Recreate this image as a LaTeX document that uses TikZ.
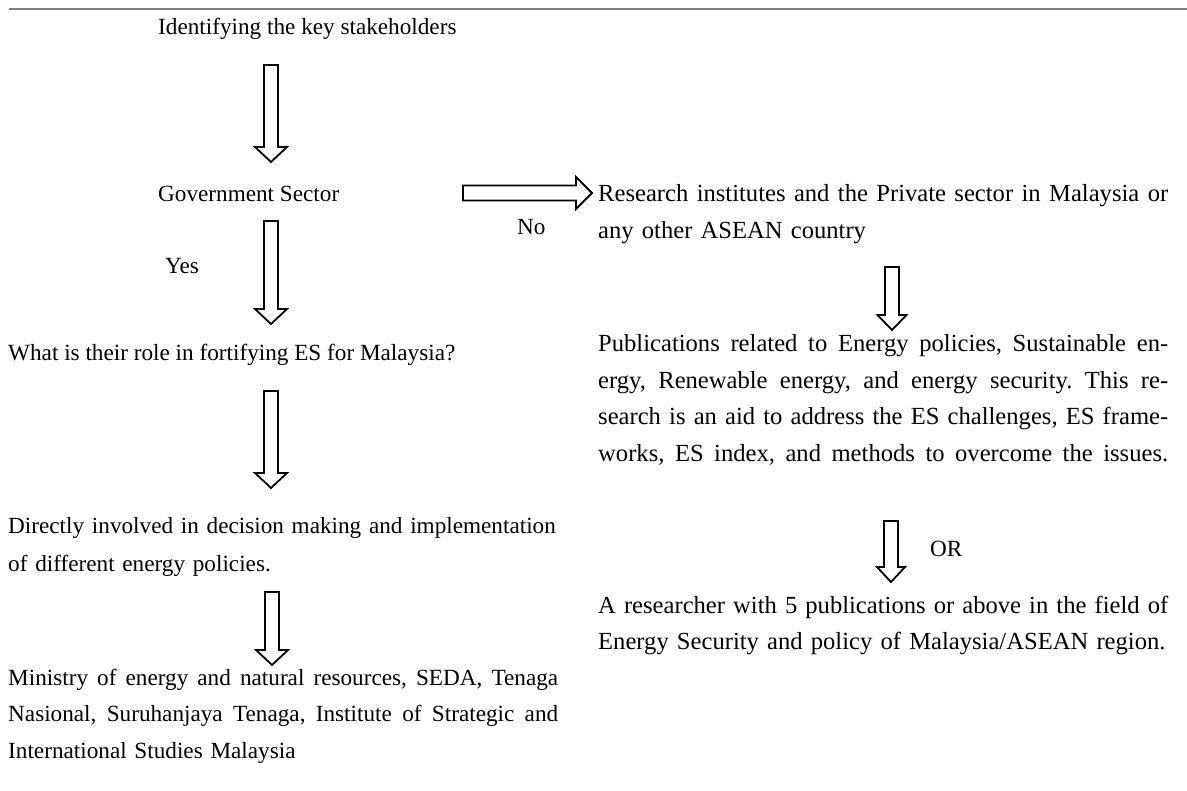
\documentclass[tikz,border=0pt]{standalone}
\usepackage{fontspec}
\setmainfont{Liberation Serif}
\frenchspacing
\definecolor{rulegray}{RGB}{128,128,128}
\newcommand\hollowdown[4]{% x center, y top, y tip, head half width
  \draw[blk] (#1-7,#2) -- (#1+7,#2) -- (#1+7,#3-15) -- (#1+#4,#3-15) -- (#1,#3)
    -- (#1-#4,#3-15) -- (#1-7,#3-15) -- cycle;}
\newcommand\jline[2]{\leavevmode\hbox to #1{\spaceskip=.25em plus .6em minus .09em\relax #2}}
\begin{document}
\begin{tikzpicture}[x=1pt,y=-1pt,
  txt/.style={inner sep=0pt, anchor=base west, font=\fontsize{23.2}{36.5}\selectfont},
  rtxt/.style={inner sep=0pt, anchor=base west, font=\fontsize{24.6}{36.4}\selectfont},
  para/.style={txt, align=left},
  rpara/.style={rtxt, align=left},
  blk/.style={draw=black, line width=1.8pt, fill=white, line join=miter}]
\useasboundingbox (0,0) rectangle (1187,791);
\fill[white] (0,0) rectangle (1187,791);
% top rule
\coordinate (ruleL) at (9,9);
\coordinate (ruleR) at (1187,9);
\draw[rulegray, line width=2pt] (ruleL) -- (ruleR);

% left column
\node[txt] (ident) at (158,35) {Identifying the key stakeholders};
\node[txt] (gov) at (158,202) {Government Sector};
\node[txt] (no) at (517,235) {No};
\node[txt] (yes) at (165,274) {Yes};
\node[txt] (role) at (8,361) {What is their role in fortifying ES for Malaysia?};
\node[para, text width=600pt, font=\fontsize{23.2}{39}\selectfont] (direct) at (8,533)
  {Directly involved in decision making and implementation\\of different energy policies.};
\node[para, text width=600pt] (ministry) at (8,685)
  {\jline{550pt}{Ministry of energy and natural resources, SEDA, Tenaga}\\
   \jline{550pt}{Nasional, Suruhanjaya Tenaga, Institute of Strategic and}\\
   International Studies Malaysia};

% right column
\node[rpara, text width=590pt] (research) at (598,202)
  {\jline{570pt}{Research institutes and the Private sector in Malaysia or}\\
   any other ASEAN country};
\node[rpara, text width=590pt] (pub) at (598,352)
  {\jline{570pt}{Publications related to Energy policies, Sustainable en-}\\
   \jline{570pt}{ergy, Renewable energy, and energy security. This re-}\\
   \jline{570pt}{search is an aid to address the ES challenges, ES frame-}\\
   \jline{570pt}{works, ES index, and methods to overcome the issues.}};
\node[txt] (or) at (930,557) {OR};
\node[rpara, text width=590pt] (researcher) at (598,613)
  {\jline{570pt}{A researcher with 5 publications or above in the field of}\\
   Energy Security and policy of Malaysia/ASEAN region.};

% hollow arrows
\hollowdown{271}{65}{162}{16}
\hollowdown{271}{221}{324}{16}
\hollowdown{271}{391}{488}{16}
\hollowdown{272}{592}{665}{16}
\hollowdown{892}{267}{330}{14.5}
\hollowdown{891}{521}{582}{14}
\draw[blk] (463,185.5) -- (576,185.5) -- (576,177) -- (592,193) -- (576,209)
  -- (576,200.5) -- (463,200.5) -- cycle;
\end{tikzpicture}
\end{document}
